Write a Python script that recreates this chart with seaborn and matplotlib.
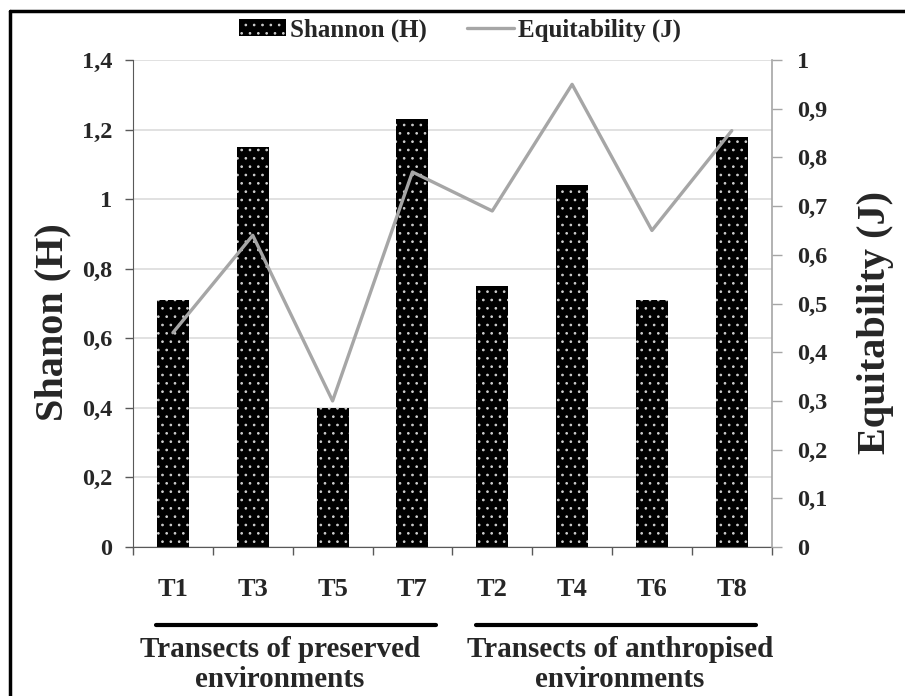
import numpy as np
import matplotlib
matplotlib.use("Agg")
import matplotlib.pyplot as plt
from matplotlib.lines import Line2D
from matplotlib.patches import Patch
from matplotlib.ticker import FuncFormatter, FixedLocator
import seaborn as sns

# ---------------- data ----------------
transects = ["T1", "T3", "T5", "T7", "T2", "T4", "T6", "T8"]
shannon = [0.71, 1.15, 0.40, 1.23, 0.75, 1.04, 0.71, 1.18]
equitability = [0.44, 0.64, 0.30, 0.77, 0.69, 0.95, 0.65, 0.855]
group_labels = ["Transects of preserved\nenvironments",
                "Transects of anthropised\nenvironments"]
group_sizes = [4, 4]
left_ticks = [0, 0.2, 0.4, 0.6, 0.8, 1.0, 1.2, 1.4]
right_ticks = [0, 0.1, 0.2, 0.3, 0.4, 0.5, 0.6, 0.7, 0.8, 0.9, 1.0]

sns.set_style("white")
plt.rcParams["font.family"] = ["Liberation Serif", "DejaVu Serif"]
plt.rcParams["font.weight"] = "bold"
plt.rcParams["hatch.linewidth"] = 0.7

W, H = 905, 696
fig = plt.figure(figsize=(W / 100, H / 100), dpi=100)
x0, x1, y_top, y_bot = 133, 771.7, 60, 547
ax = fig.add_axes([x0 / W, 1 - y_bot / H, (x1 - x0) / W, (y_bot - y_top) / H])

bar_color = "black"
dot_color = "#d0d0d0"
line_color = "#a6a6a6"
spine_dark = "#595959"

sns.barplot(x=transects, y=shannon, color=bar_color, saturation=1, width=0.4,
            hatch="..", edgecolor=dot_color, linewidth=0, ax=ax, zorder=2)
ax.set_ylim(0, 1.4)
ax.set_xlim(-0.5, len(transects) - 0.5)
ax.set_axisbelow(True)
ax.yaxis.grid(True, color="#d9d9d9", linewidth=1.1)
ax.xaxis.grid(False)

fmt = FuncFormatter(lambda v, p: f"{round(v, 1):g}".replace(".", ","))
ax.yaxis.set_major_locator(FixedLocator(left_ticks))
ax.yaxis.set_major_formatter(fmt)
ax.tick_params(axis="y", which="major", left=True, length=6, width=1,
               color=spine_dark, pad=9, labelsize=17.5)
ax.tick_params(axis="x", which="major", length=0, pad=22, labelsize=19)
ax.set_xticks(np.arange(len(transects)))
ax.set_xticklabels(transects, fontweight="bold")
ax.xaxis.set_minor_locator(FixedLocator(np.arange(-0.5, len(transects), 1.0)))
ax.tick_params(axis="x", which="minor", bottom=True, length=6, width=1,
               color=spine_dark)
for lab in ax.get_yticklabels():
    lab.set_fontweight("bold")

ax2 = ax.twinx()
sns.lineplot(x=np.arange(len(transects)), y=equitability, ax=ax2,
             color=line_color, linewidth=2.4)
ax2.set_ylim(0, 1.0)
ax2.yaxis.set_major_locator(FixedLocator(right_ticks))
ax2.yaxis.set_major_formatter(fmt)
ax2.tick_params(axis="y", right=True, length=7, width=1, color=line_color,
                pad=11, labelsize=17.5)
for lab in ax2.get_yticklabels():
    lab.set_fontweight("bold")

for a in (ax, ax2):
    a.spines["top"].set_visible(False)
ax.spines["left"].set_color(spine_dark)
ax.spines["bottom"].set_color(spine_dark)
ax.spines["right"].set_visible(False)
ax2.spines["left"].set_visible(False)
ax2.spines["bottom"].set_visible(False)
ax2.spines["right"].set_color(line_color)
ax2.spines["right"].set_linewidth(1.2)

ax.set_ylabel("Shanon (H)", fontsize=29, fontweight="bold")
ax.yaxis.set_label_coords(-0.096, 0.462)
ax2.set_ylabel("Equitability (J)", fontsize=29, fontweight="bold")
ax2.yaxis.set_label_coords(1.134, 0.462)
ax.set_xlabel("")

# group underline + labels
trans = ax.get_xaxis_transform()
label_shift = [-0.16, 0.1]
start = 0
for lbl, n, dx in zip(group_labels, group_sizes, label_shift):
    end = start + n - 1
    ax.add_line(Line2D([start - 0.21, end + 0.3], [-0.16, -0.16], transform=trans,
                       color="black", linewidth=3, clip_on=False))
    ax.text((start + end) / 2 + dx, -0.183, lbl, transform=trans, ha="center",
            va="top", fontsize=21, fontweight="bold", linespacing=1.15)
    start += n

# legend
handles = [Patch(facecolor=bar_color, hatch="..", edgecolor=dot_color, linewidth=0),
           Line2D([], [], color=line_color, linewidth=2.4)]
fig.legend(handles, ["Shannon (H)", "Equitability (J)"], loc="center",
           bbox_to_anchor=(460 / W, 1 - 30 / H), ncol=2, frameon=False,
           prop={"size": 18, "weight": "bold"}, handlelength=1.9,
           handletextpad=0.15, columnspacing=1.6)

# outer frame (top and left edges)
fig.add_artist(Line2D([10 / W, 10 / W], [0, 1 - 11 / H], transform=fig.transFigure,
                      color="black", linewidth=2.5))
fig.add_artist(Line2D([10 / W, 1], [1 - 11 / H, 1 - 11 / H], transform=fig.transFigure,
                      color="black", linewidth=2.5))

fig.savefig("out.png", dpi=100)
